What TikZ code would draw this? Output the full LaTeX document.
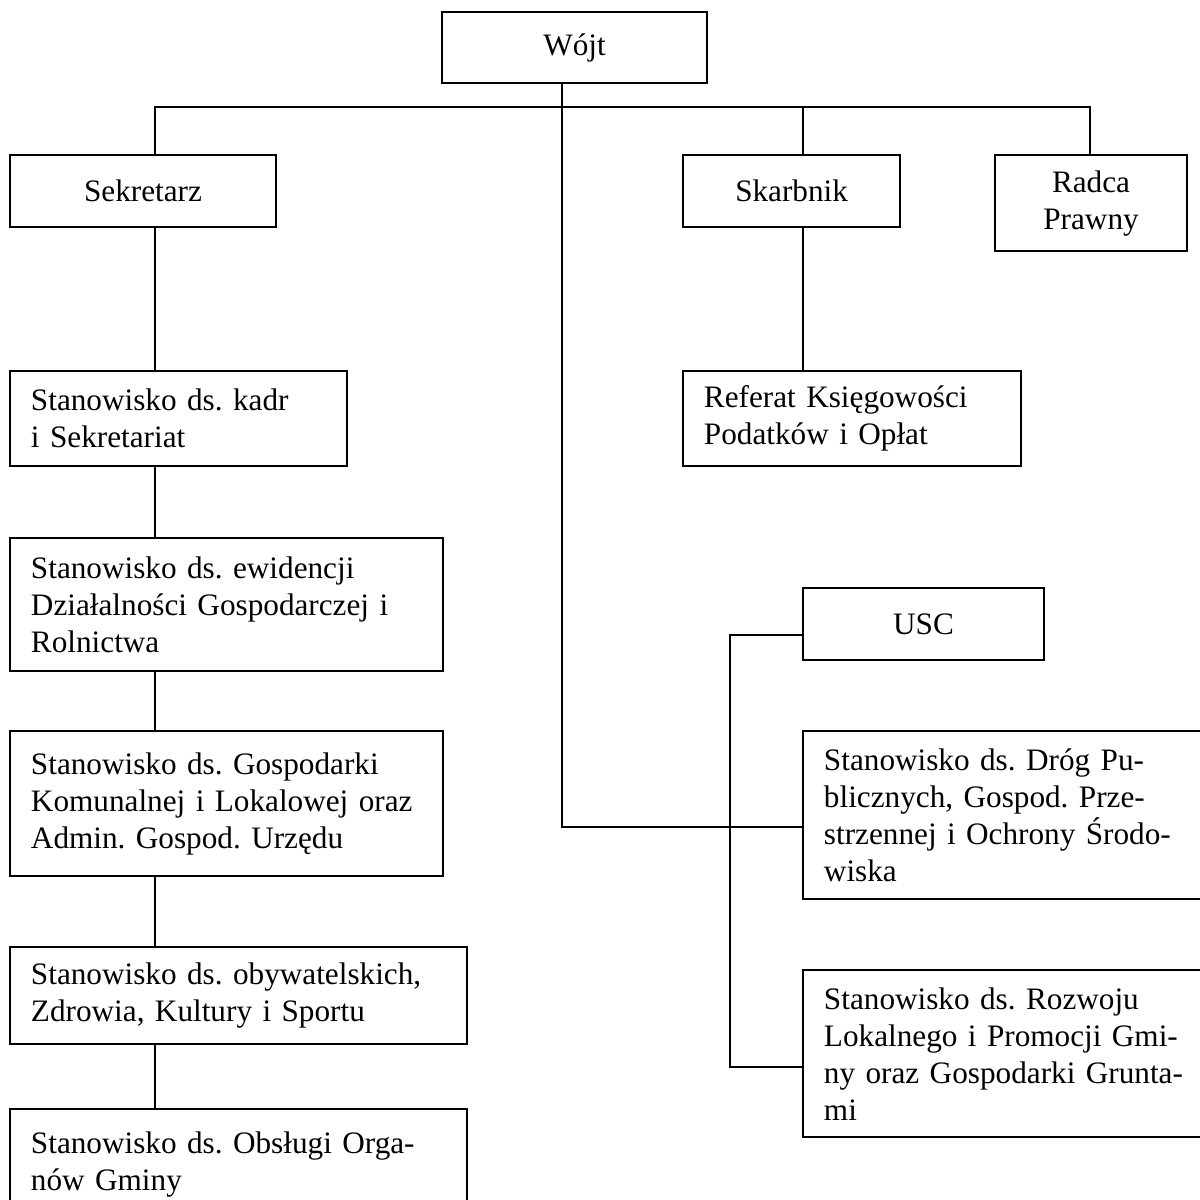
\documentclass[tikz,border=0pt]{standalone}
\usepackage{fontspec}
\setmainfont{Liberation Serif}
\usepackage{tikz}
\usetikzlibrary{arrows.meta,
                calc,
                positioning}

\tikzset{
	unit/.style={draw, line width=0.8pt, align=center, inner sep=0pt},
	post/.style={draw, line width=0.8pt, align=left, inner xsep=7.8pt, inner ysep=0pt},
	link/.style={line width=0.5pt}
}

\begin{document}
\begin{tikzpicture}[
		x=0.3731pt, y=-0.3731pt,
		font=\fontsize{11.65pt}{13.8pt}\selectfont\frenchspacing
	]
		\path[use as bounding box, fill=white] (0,0) rectangle (1200,1200);
		\clip (0,0) rectangle (1200,1200);
		\node [unit, anchor=north west, minimum width=98.9pt, minimum height=26.6pt] (wojt) at (441,11) {W\'ojt};
		\node [unit, anchor=north west, minimum width=99.2pt, minimum height=26.9pt] (sek) at (9,154) {Sekretarz};
		\node [unit, anchor=north west, minimum width=81pt, minimum height=26.9pt] (skarb) at (682,154) {Skarbnik};
		\node [unit, anchor=north west, minimum width=71.6pt, minimum height=35.9pt] (radca) at (994,154) {Radca\\Prawny};
		\node [post, below right=52.9pt and 0pt of sek.south west, text width=110.1pt, minimum height=35.4pt] (kadr) {Stanowisko ds. kadr\\i Sekretariat};
		\node [post, below right=26.1pt and 0pt of kadr.south west, text width=146pt, minimum height=49.6pt] (ewid) {Stanowisko ds. ewidencji\\Działalności Gospodarczej i\\Rolnictwa};
		\node [post, below right=21.6pt and 0pt of ewid.south west, text width=146pt, minimum height=54.1pt] (gosp) {Stanowisko ds. Gospodarki\\Komunalnej i Lokalowej oraz\\Admin. Gospod. Urzędu};
		\node [post, below right=25.7pt and 0pt of gosp.south west, text width=154.9pt, minimum height=36.2pt] (obyw) {Stanowisko ds. obywatelskich,\\Zdrowia, Kultury i Sportu};
		\node [post, below right=23.5pt and 0pt of obyw.south west, text width=154.9pt, minimum height=41.4pt] (obsl) {Stanowisko ds. Obsługi Orga-\\nów Gminy};
		\node [post, below right=52.9pt and 0pt of skarb.south west, text width=110.5pt, minimum height=35.4pt] (ref) {Referat Księgowości\\Podatków i Opłat};
		\node [unit, anchor=north west, minimum width=89.9pt, minimum height=26.9pt] (usc) at (802,587) {USC};
		\node [post, below right=25.7pt and 0pt of usc.south west, text width=144.8pt, minimum height=62.7pt] (drog) {Stanowisko ds. Dróg Pu-\\blicznych, Gospod. Prze-\\strzennej i Ochrony Środo-\\wiska};
		\node [post, below right=25.7pt and 0pt of drog.south west, text width=144.8pt, minimum height=62.3pt] (rozw) {Stanowisko ds. Rozwoju\\Lokalnego i Promocji Gmi-\\ny oraz Gospodarki Grunta-\\mi};
		\coordinate (busl) at (155,107);
		\coordinate (busr) at (1090,107);
		\coordinate (skx) at (803,107);
		\coordinate (drg) at (562,827);
		\coordinate (uscx) at (730,635);
		\coordinate (rzx) at (730,1067);
		\draw[link] (busl |- sek.north) -- (busl) -- (busr) -- (busr |- radca.north);
		\draw[link] (drg |- wojt.south) -- (drg) -- (drg -| drog.west);
		\draw[link] (uscx -| usc.west) -- (uscx) -- (rzx) -- (rzx -| rozw.west);
		\path[link]
			(skx) edge (skx |- skarb.north)
			(skx |- skarb.south) edge (skx |- ref.north)
			(busl |- sek.south) edge (busl |- kadr.north)
			(busl |- kadr.south) edge (busl |- ewid.north)
			(busl |- ewid.south) edge (busl |- gosp.north)
			(busl |- gosp.south) edge (busl |- obyw.north)
			(busl |- obyw.south) edge (busl |- obsl.north);
	\end{tikzpicture}
\end{document}
